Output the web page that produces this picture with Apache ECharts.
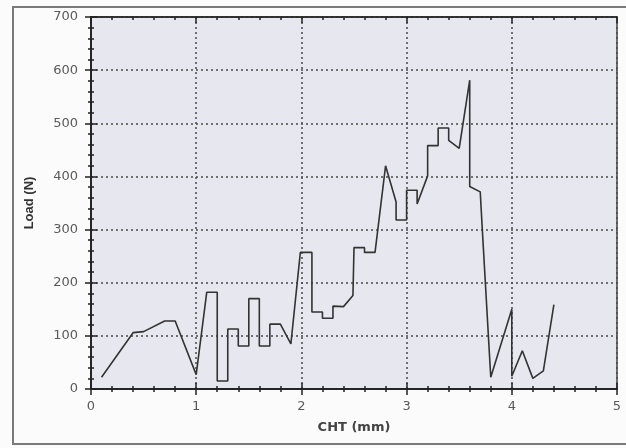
<!DOCTYPE html>
<html>
<head>
<meta charset="utf-8">
<script src="https://cdn.jsdelivr.net/npm/echarts@6/dist/echarts.min.js"></script>
<style>
  html, body { margin: 0; padding: 0; background: #fbfbfb; }
  #chart { width: 626px; height: 448px; }
</style>
</head>
<body>
<div id="chart"></div>
<script>
// Crosshead travel (mm) and measured load (N); repeated x values form vertical steps
const chtMm = [0.1, 0.4, 0.5, 0.7, 0.8, 1.0, 1.1, 1.2, 1.2, 1.3, 1.3, 1.4, 1.4, 1.5, 1.5, 1.6, 1.6, 1.7, 1.7, 1.8,
  1.9, 1.99, 2.1, 2.1, 2.2, 2.2, 2.3, 2.3, 2.4, 2.49, 2.5, 2.6, 2.6, 2.7, 2.8, 2.9, 2.9, 3.0, 3.0, 3.1,
  3.1, 3.2, 3.2, 3.3, 3.3, 3.4, 3.4, 3.5, 3.6, 3.6, 3.7, 3.72, 3.8, 4.0, 4.0, 4.1, 4.2, 4.3, 4.4];
const loadN = [22, 106, 108, 128, 128, 27, 182, 182, 15, 15, 113, 113, 81, 81, 170, 170, 81, 81, 122, 122,
  85, 257, 257, 145, 145, 133, 133, 156, 155, 176, 266, 266, 257, 257, 420, 352, 318, 318, 374, 374,
  348, 401, 458, 458, 491, 491, 468, 453, 581, 381, 371, 299, 22, 150, 24, 72, 20, 34, 159];

const xTicks = { min: 0, max: 5, interval: 1 };
const yTicks = { min: 0, max: 700, interval: 100 };

const labelFont = { fontFamily: 'DejaVu Sans', fontSize: 13, color: '#5a5a5a' };
const axisLine = { show: true, lineStyle: { color: '#222', width: 1.5 } };
const dotted = { show: true, lineStyle: { color: '#4a4a4a', width: 1.5, type: [2, 3] } };

function plainAxis(extra) {
  return Object.assign({
    type: 'value',
    axisLine: axisLine,
    axisLabel: { show: false },
    splitLine: { show: false },
    axisTick: { show: true, inside: true, length: 6, lineStyle: { color: '#222', width: 1.5 } },
    minorTick: { show: true, splitNumber: 5, length: 3, lineStyle: { color: '#222', width: 1.5 } }
  }, extra);
}

const chart = echarts.init(document.getElementById('chart'), null, { renderer: 'canvas' });
chart.setOption({
  backgroundColor: '#fbfbfb',
  animation: false,
  graphic: [{
    type: 'rect',
    shape: { x: 13, y: 7, width: 700, height: 437 },
    style: { fill: 'none', stroke: '#7a7a7a', lineWidth: 2 },
    z: -1
  }],
  grid: {
    left: 91, top: 17, width: 526, height: 372,
    show: true, backgroundColor: '#e7e7ef', borderColor: '#444', borderWidth: 1.5
  },
  xAxis: [
    {
      type: 'value', position: 'bottom', min: xTicks.min, max: xTicks.max, interval: xTicks.interval,
      name: 'CHT (mm)', nameLocation: 'middle', nameGap: 32,
      nameTextStyle: { fontFamily: 'DejaVu Sans', fontWeight: 'bold', fontSize: 13, color: '#444' },
      axisLine: axisLine,
      axisTick: { show: true, inside: false, length: 6, lineStyle: { color: '#222', width: 1.5 } },
      minorTick: { show: true, splitNumber: 5, length: 3, lineStyle: { color: '#222', width: 1.5 } },
      axisLabel: Object.assign({ margin: 11 }, labelFont),
      splitLine: dotted
    },
    plainAxis({ position: 'bottom', min: xTicks.min, max: xTicks.max, interval: xTicks.interval }),
    plainAxis({ position: 'top', min: xTicks.min, max: xTicks.max, interval: xTicks.interval })
  ],
  yAxis: [
    {
      type: 'value', position: 'left', min: yTicks.min, max: yTicks.max, interval: yTicks.interval,
      name: 'Load (N)', nameLocation: 'middle', nameGap: 55, nameRotate: 90,
      nameTextStyle: { fontFamily: 'Liberation Sans', fontWeight: 'bold', fontSize: 13, color: '#333' },
      axisLine: axisLine,
      axisTick: { show: true, inside: false, length: 6, lineStyle: { color: '#222', width: 1.5 } },
      minorTick: { show: true, splitNumber: 5, length: 3, lineStyle: { color: '#222', width: 1.5 } },
      axisLabel: Object.assign({ margin: 13 }, labelFont),
      splitLine: dotted
    },
    plainAxis({ position: 'left', min: yTicks.min, max: yTicks.max, interval: yTicks.interval })
  ],
  series: [{
    type: 'line',
    xAxisIndex: 0,
    yAxisIndex: 0,
    data: chtMm.map((x, i) => [x, loadN[i]]),
    showSymbol: false,
    lineStyle: { color: '#333', width: 1.6 },
    z: 5
  }]
});
</script>
</body>
</html>
